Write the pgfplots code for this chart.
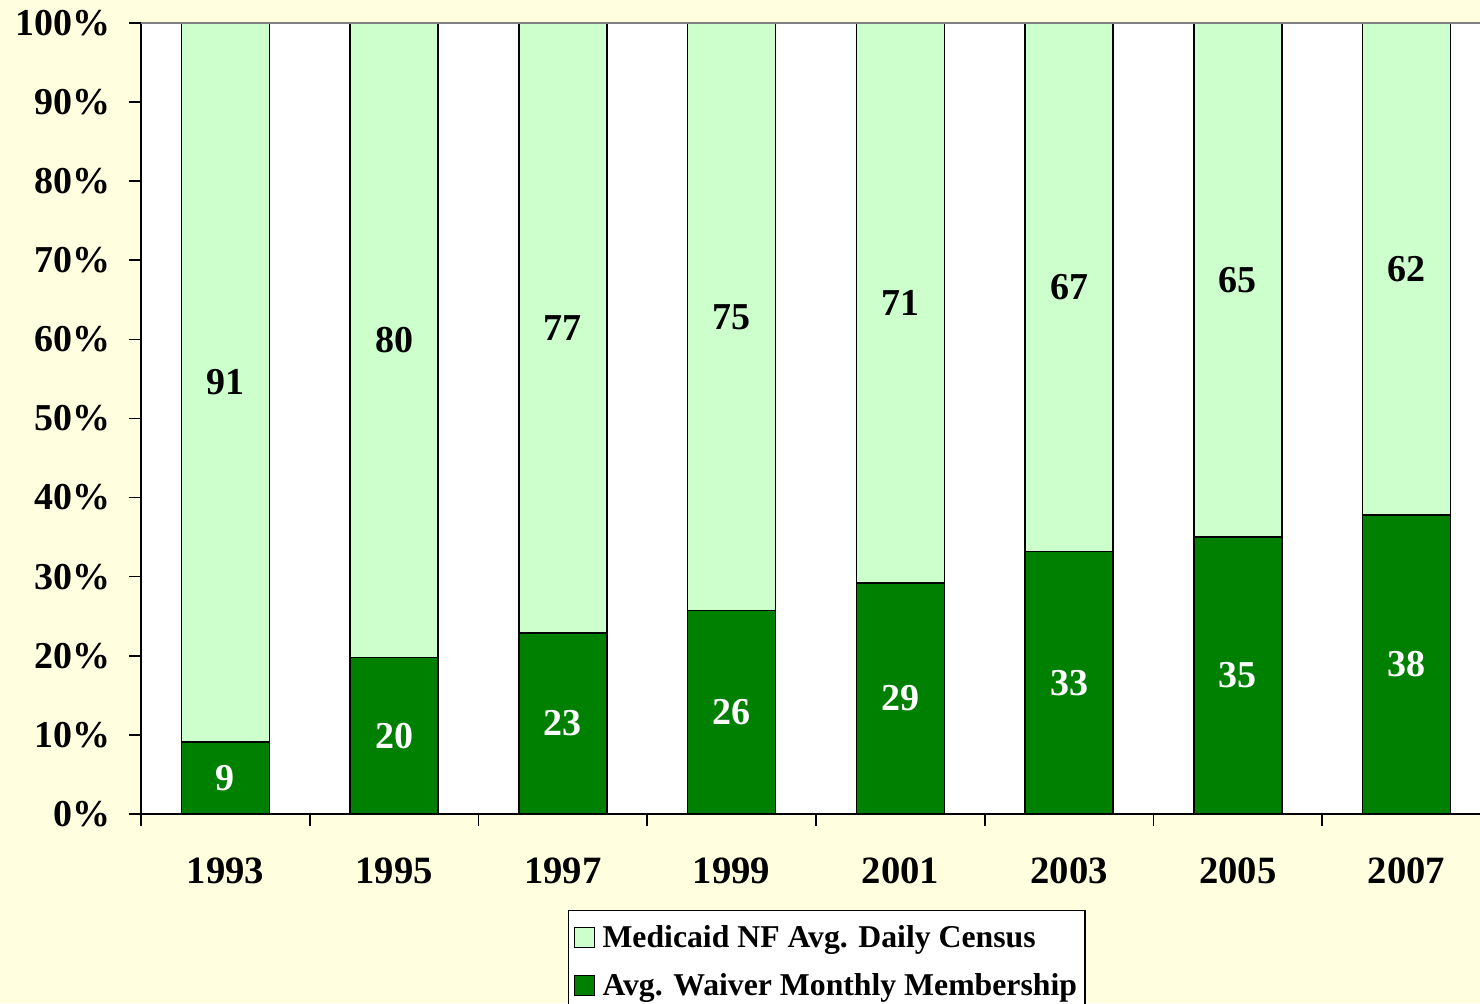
\documentclass[border=0pt]{standalone}
\usepackage{pgfplots}
\pgfplotsset{compat=1.18}
\usepackage{pgfplotstable}
\usepackage{fontspec}
\setmainfont{Liberation Serif}
\definecolor{bgyellow}{RGB}{255,255,224}
\definecolor{lightg}{RGB}{204,255,204}
\definecolor{darkg}{RGB}{0,128,0}

\pgfplotstableread{
x waiver nf
0 9.1 90.9
1 19.8 80.2
2 22.9 77.1
3 25.7 74.3
4 29.2 70.8
5 33.2 66.8
6 35.0 65.0
7 37.8 62.2
}\shares

\pgfplotstableread{
x dmid dlab lmid llab
0 4.55 9 54.55 91
1 9.9 20 59.9 80
2 11.45 23 61.45 77
3 12.85 26 62.85 75
4 14.6 29 64.6 71
5 16.6 33 66.6 67
6 17.5 35 67.5 65
7 18.9 38 68.9 62
}\labels

\pgfplotsset{base/.style={scale only axis, width=1012.5pt, height=593.25pt,
  at={(105.75pt,141.75pt)}, anchor=south west,
  xmin=-0.5, xmax=7.5, ymin=0, ymax=100, clip=false}}

\begin{document}
\begin{tikzpicture}
\path[use as bounding box, fill=bgyellow] (0,0) rectangle (1110pt,752.25pt);
\begin{axis}[base,
  ybar stacked, bar width=66pt,
  axis background/.style={fill=white},
  axis x line*=bottom, axis y line*=left,
  axis line style={black, line width=1.2pt},
  tick align=outside, major tick length=9pt,
  tick style={black, line width=1.2pt},
  ytick={0,10,...,100},
  yticklabel={\pgfmathprintnumber{\tick}\%},
  /pgf/number format/assume math mode=true,
  y tick label style={font=\bfseries\fontsize{28.5}{28.5}\selectfont, inner sep=0pt, anchor=east, xshift=-14pt},
  xtick={-0.5,0.5,...,6.5}, xticklabels={},
  extra x ticks={0,1,...,7},
  extra x tick labels={1993,1995,1997,1999,2001,2003,2005,2007},
  extra x tick style={major tick length=0pt,
    tick label style={font=\bfseries\fontsize{29}{29}\selectfont, inner sep=0pt, anchor=center, yshift=-42.75pt}},
  reverse legend,
  legend cell align=left,
  legend style={at={(0.3163,-0.1214)}, anchor=north west, draw=black, line width=1pt,
    fill=white, font=\bfseries\fontsize{23.8}{28}\selectfont,
    inner xsep=4pt, inner ysep=9pt, row sep=14pt},
  legend image code/.code={\draw[#1, draw=black, line width=0.8pt] (0pt,-7.5pt) rectangle (15pt,7.5pt);
    \path[draw=none, fill=none] (0pt,0pt) -- (19pt,0pt);},
]
\draw[gray, line width=1.2pt] (rel axis cs:0,1) -- (rel axis cs:1,1);
\addplot[fill=darkg, draw=black, line width=1pt] table[x=x, y=waiver] {\shares};
\addlegendentry{Avg. Waiver Monthly Membership}
\addplot[fill=lightg, draw=black, line width=1pt] table[x=x, y=nf] {\shares};
\addlegendentry{Medicaid NF Avg. Daily Census}
\end{axis}
\begin{axis}[base, hide axis]
\addplot[draw=none, nodes near coords, point meta=explicit symbolic,
  nodes near coords style={anchor=center, text=white, font=\bfseries\fontsize{28.5}{28.5}\selectfont}]
  table[x=x, y=dmid, meta=dlab] {\labels};
\addplot[draw=none, nodes near coords, point meta=explicit symbolic,
  nodes near coords style={anchor=center, text=black, font=\bfseries\fontsize{28.5}{28.5}\selectfont}]
  table[x=x, y=lmid, meta=llab] {\labels};
\end{axis}
\end{tikzpicture}
\end{document}
